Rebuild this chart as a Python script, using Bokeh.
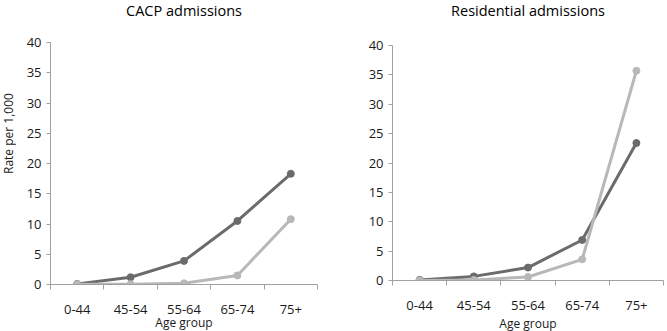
import math
from bokeh.plotting import figure
from bokeh.layouts import row, column
from bokeh.models import FixedTicker, Range1d, Label
from bokeh.embed import file_html
from bokeh.resources import INLINE

categories = ["0-44", "45-54", "55-64", "65-74", "75+"]
cacp_dark = [0.1, 1.2, 3.9, 10.5, 18.3]
cacp_light = [0.05, 0.05, 0.2, 1.5, 10.8]
res_dark = [0.1, 0.7, 2.2, 6.9, 23.4]
res_light = [0.0, 0.1, 0.6, 3.6, 35.7]
y_ticks = [0, 5, 10, 15, 20, 25, 30, 35, 40]
titles = ["CACP admissions", "Residential admissions"]
Y_MAX = 40

DARK = "#6b6b6b"
LIGHT = "#b8b8b8"
AXIS = "#a0a0a0"
TEXT = "#1a1a1a"
FONT = "Open Sans"

W, H = 667, 331
TITLE_H = 20
STRIP_W = 16
ROW_H = H - TITLE_H

xpos = [i + 0.5 for i in range(len(categories))]


def bare(width, height):
    f = figure(width=width, height=height, output_backend="svg", toolbar_location=None,
               x_range=Range1d(0, width), y_range=Range1d(0, height),
               min_border_left=0, min_border_right=0, min_border_top=0, min_border_bottom=0)
    f.axis.visible = False
    f.grid.visible = False
    f.outline_line_color = None
    f.background_fill_color = "white"
    f.border_fill_color = "white"
    return f


def make(dark, light, fw, fh, left, right, top, bottom, xlabel_standoff):
    p = figure(frame_width=fw, frame_height=fh, output_backend="svg", toolbar_location=None,
               x_range=Range1d(0, len(categories)), y_range=Range1d(0, Y_MAX),
               min_border_left=left, min_border_right=right,
               min_border_top=top, min_border_bottom=bottom)
    p.outline_line_color = None
    p.xgrid.visible = False
    p.ygrid.visible = False
    p.background_fill_color = "white"
    p.border_fill_color = "white"

    xa = p.xaxis[0]
    xa.ticker = FixedTicker(ticks=xpos, minor_ticks=list(range(len(categories) + 1)))
    xa.major_label_overrides = {x: c for x, c in zip(xpos, categories)}
    xa.major_tick_in = 0
    xa.major_tick_out = 0
    xa.minor_tick_in = 0
    xa.minor_tick_out = 5
    xa.minor_tick_line_color = AXIS
    xa.axis_line_color = AXIS
    xa.major_label_standoff = 15
    xa.major_label_text_font = FONT
    xa.major_label_text_font_size = "13px"
    xa.major_label_text_color = TEXT
    xa.axis_label = "Age group"
    xa.axis_label_standoff = xlabel_standoff
    xa.axis_label_text_font = FONT
    xa.axis_label_text_font_size = "12px"
    xa.axis_label_text_font_style = "normal"
    xa.axis_label_text_color = TEXT

    ya = p.yaxis[0]
    ya.ticker = FixedTicker(ticks=y_ticks, minor_ticks=[])
    ya.major_tick_in = 0
    ya.major_tick_out = 4
    ya.major_tick_line_color = AXIS
    ya.axis_line_color = AXIS
    ya.major_label_standoff = 5
    ya.major_label_text_font = FONT
    ya.major_label_text_font_size = "13px"
    ya.major_label_text_color = TEXT

    p.line(xpos, dark, line_color=DARK, line_width=3)
    p.scatter(xpos, dark, size=7, fill_color=DARK, line_color=DARK)
    p.line(xpos, light, line_color=LIGHT, line_width=3)
    p.scatter(xpos, light, size=7, fill_color=LIGHT, line_color=LIGHT)
    return p


# left chart geometry: frame x 50..317, y 42..284 ; right chart: x 392..663, y 45..280
L_FW, L_FH, L_LEFT, L_RIGHT, L_TOP = 267, 242, 50, 13, 42
R_FW, R_FH, R_LEFT, R_RIGHT, R_TOP = 271, 235, 62, 4, 45
L_W = L_LEFT + L_FW + L_RIGHT
R_W = R_LEFT + R_FW + R_RIGHT
PLOT_TOP = L_TOP - TITLE_H          # common top border of both plots
R_SHIFT = R_TOP - L_TOP             # right chart sits a little lower

# title strip
ttl = bare(W, TITLE_H)
centers = [L_LEFT + L_FW / 2, L_W + R_LEFT + R_FW / 2]
for cx, t in zip(centers, titles):
    ttl.add_layout(Label(x=cx, y=TITLE_H / 2, text=t, text_align="center",
                         text_baseline="middle", text_font=FONT,
                         text_font_size="14.5px", text_color="#000000"))

# narrow strip holding the rotated y-axis title of the left chart
ylab = bare(STRIP_W, ROW_H)
ylab.add_layout(Label(x=STRIP_W / 2, y=H - 138, text="Rate per 1,000", angle=math.pi / 2,
                      text_align="center", text_baseline="middle",
                      text_font=FONT, text_font_size="12px", text_color=TEXT))

p1 = make(cacp_dark, cacp_light, L_FW, L_FH, L_LEFT - STRIP_W, L_RIGHT,
          PLOT_TOP, ROW_H - PLOT_TOP - L_FH, -3)
p2 = make(res_dark, res_light, R_FW, R_FH, R_LEFT, R_RIGHT,
          PLOT_TOP, ROW_H - R_SHIFT - PLOT_TOP - R_FH, 2)
right = column(bare(R_W, R_SHIFT), p2, spacing=0)

layout = column(ttl, row(ylab, p1, right, spacing=0), spacing=0)
open("out.html", "w").write(file_html(layout, INLINE))
